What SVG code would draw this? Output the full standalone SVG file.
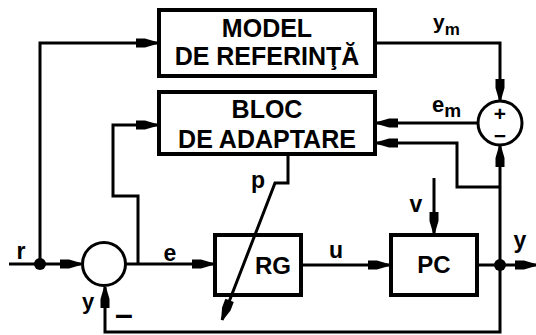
<svg xmlns="http://www.w3.org/2000/svg" width="536" height="335" viewBox="0 0 536 335">
<defs>
<marker id="ah" markerUnits="userSpaceOnUse" markerWidth="22" markerHeight="12" refX="21" refY="6" orient="auto" overflow="visible">
<path d="M0,1.5 L9,1.5 L21,5 L21,7 L9,10.5 L0,10.5 Z" fill="#000"/>
</marker>
<style>
.box{fill:#fff;stroke:#000;stroke-width:4}
.ln{fill:none;stroke:#000;stroke-width:3}
.t{font-family:"Liberation Sans",Arial,sans-serif;font-weight:bold;fill:#000}
.bt{font-size:25px;text-anchor:middle}
.lb{font-size:23px;text-anchor:middle}
</style>
</defs>
<rect width="536" height="335" fill="#fff"/>
<g id="model">
<rect class="box" x="159" y="10" width="216" height="66"/>
<text class="t bt" x="267" y="37">MODEL</text>
<text class="t bt" x="267" y="65">DE REFERINŢĂ</text>
</g>
<g id="adaptare">
<rect class="box" x="159" y="92" width="216" height="62"/>
<text class="t bt" x="267" y="118">BLOC</text>
<text class="t bt" x="267" y="148">DE ADAPTARE</text>
</g>
<g id="sum1">
<circle cx="104" cy="264" r="21.5" fill="#fff" stroke="#000" stroke-width="3"/>
</g>
<g id="sum2">
<circle cx="500" cy="123" r="22" fill="#fff" stroke="#000" stroke-width="3"/>
<text class="t" x="500" y="121" font-size="21" text-anchor="middle">+</text>
<text class="t" x="500" y="143" font-size="21" text-anchor="middle">−</text>
</g>
<g id="RG">
<rect class="box" x="215" y="235" width="86" height="60"/>
<text class="t" x="273" y="274" font-size="24" text-anchor="middle">RG</text>
</g>
<g id="PC">
<rect class="box" x="391" y="235" width="86" height="60"/>
<text class="t" x="434" y="273" font-size="24" text-anchor="middle">PC</text>
</g>
<g id="connectors">
<path class="ln" d="M9,264 L81,264" marker-end="url(#ah)"/>
<path class="ln" d="M40,264 L40,43 L157,43" marker-end="url(#ah)"/>
<path class="ln" d="M138,264 L138,196 L113,196 L113,125 L157,125" marker-end="url(#ah)"/>
<path class="ln" d="M126,264 L213,264" marker-end="url(#ah)"/>
<path class="ln" d="M303,265 L389,265" marker-end="url(#ah)"/>
<path class="ln" d="M479,265 L536,265" marker-end="url(#ah)"/>
<path class="ln" d="M434,178 L434,233" marker-end="url(#ah)"/>
<path class="ln" d="M377,43 L500,43 L500,100" marker-end="url(#ah)"/>
<path class="ln" d="M478,123 L377,123" marker-end="url(#ah)"/>
<path class="ln" d="M500,187 L457,187 L457,143 L377,143" marker-end="url(#ah)"/>
<path class="ln" d="M500,265 L500,146" marker-end="url(#ah)"/>
<path class="ln" d="M500,265 L500,332 L105,332 L105,287" marker-end="url(#ah)"/>
<path class="ln" d="M288,156 L288,183 L275,183 L222,320" marker-end="url(#ah)"/>
<circle cx="40" cy="264" r="6" fill="#000"/>
<circle cx="500" cy="265" r="6" fill="#000"/>
</g>
<g id="labels">
<text class="t lb" x="21" y="259">r</text>
<text class="t lb" x="170" y="261">e</text>
<text class="t lb" x="336" y="258">u</text>
<text class="t lb" x="416" y="212">v</text>
<text class="t lb" x="258" y="188">p</text>
<text class="t" x="520" y="248" font-size="23" text-anchor="middle">y</text>
<text class="t" x="88" y="309" font-size="22" text-anchor="middle">y</text>
<text class="t" x="124" y="325" font-size="32" text-anchor="middle">–</text>
<text class="t" x="433" y="29" font-size="21">y<tspan font-size="17" dy="6">m</tspan></text>
<text class="t" x="432" y="112" font-size="22">e<tspan font-size="19" dy="5">m</tspan></text>
</g>
</svg>
